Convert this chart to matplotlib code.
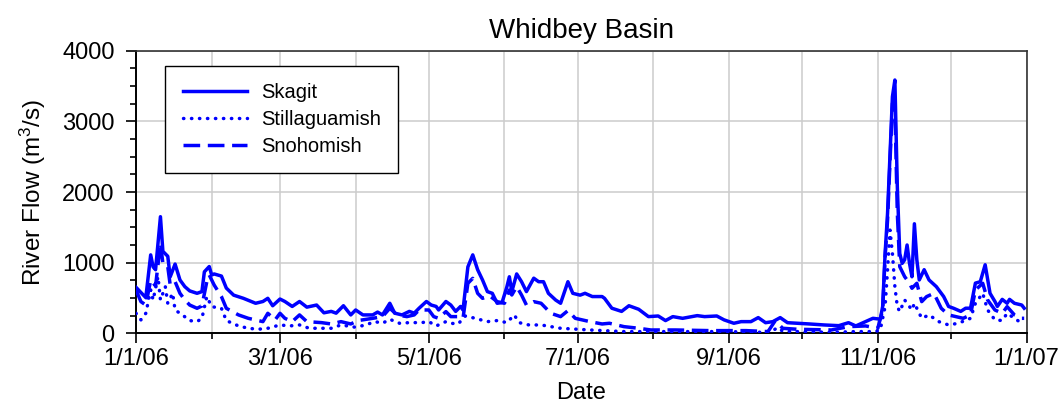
import numpy as np
import matplotlib
matplotlib.use("Agg")
import matplotlib.pyplot as plt
import matplotlib.dates as mdates
from matplotlib.ticker import MultipleLocator, FuncFormatter

plt.rcParams['font.family'] = ['Liberation Sans', 'DejaVu Sans']
plt.rcParams['mathtext.default'] = 'regular'

# ---- data (day offset from 1/1/06, flow m3/s) ----
skagit_day = [0, 3, 4, 6, 7, 8, 10, 11, 13, 14, 16, 18, 20, 22, 25, 27, 28, 30, 31, 32, 35, 37, 40, 44, 49, 52,
              54, 56, 59, 61, 64, 67, 70, 74, 77, 80, 82, 85, 88, 90, 93, 97, 99, 101, 104, 106, 109, 112, 114,
              116, 119, 121, 123, 124, 127, 129, 131, 133, 134, 136, 138, 140, 142, 144, 146, 148, 150, 152, 153,
              154, 156, 158, 160, 163, 165, 167, 169, 172, 174, 177, 179, 182, 184, 187, 191, 192, 195, 199, 202,
              206, 210, 214, 217, 220, 224, 230, 233, 238, 241, 245, 248, 252, 255, 258, 261, 264, 267, 271, 276,
              282, 288, 292, 295, 299, 302, 305, 306, 307, 308, 310, 311, 312, 313, 314, 315, 316, 317, 318, 319,
              320, 321, 323, 325, 328, 331, 333, 335, 338, 340, 342, 344, 346, 348, 350, 352, 353, 355, 357, 358,
              360, 363, 364]
skagit = [650, 540, 505, 1110, 940, 900, 1650, 1160, 1090, 800, 980, 755, 660, 600, 566, 590, 870, 945, 825, 840,
          810, 640, 540, 495, 425, 450, 495, 390, 485, 450, 380, 450, 370, 400, 290, 310, 285, 390, 260, 330, 260,
          260, 300, 260, 425, 285, 260, 310, 285, 355, 450, 400, 380, 330, 450, 400, 310, 380, 330, 940, 1110, 900,
          755, 590, 566, 425, 435, 660, 800, 590, 840, 730, 590, 780, 730, 730, 566, 470, 425, 730, 566, 540, 566,
          520, 520, 495, 355, 310, 390, 340, 236, 245, 180, 236, 212, 250, 236, 245, 190, 142, 165, 165, 222, 150,
          165, 222, 150, 142, 132, 118, 108, 150, 104, 165, 212, 200, 380, 1130, 1700, 3350, 3585, 2075, 1130, 990,
          1040, 1250, 990, 800, 1550, 1040, 755, 900, 755, 660, 520, 380, 355, 310, 355, 355, 710, 730, 970, 566,
          450, 380, 480, 425, 480, 425, 400, 355]

stilla_day = [0, 2, 4, 6, 7, 9, 10, 12, 13, 15, 16, 19, 22, 25, 27, 29, 31, 35, 37, 42, 46, 50, 54, 59, 63, 67,
              71, 76, 80, 84, 90, 94, 98, 101, 104, 108, 112, 117, 120, 123, 127, 129, 132, 135, 139, 144, 148,
              152, 155, 157, 161, 166, 174, 186, 200, 214, 228, 242, 257, 261, 263, 265, 271, 285, 295, 303, 305,
              307, 308, 309, 310, 311, 312, 313, 315, 318, 319, 322, 325, 329, 333, 337, 342, 344, 347, 349, 352,
              355, 357, 360, 363, 364]
stilla = [283, 190, 283, 613, 472, 800, 472, 660, 425, 566, 330, 260, 180, 165, 212, 520, 377, 354, 180, 104, 71,
          57, 71, 118, 104, 118, 71, 71, 71, 118, 85, 118, 165, 142, 198, 142, 151, 151, 165, 104, 165, 142, 132,
          245, 212, 165, 180, 151, 260, 151, 118, 118, 71, 47, 24, 24, 24, 24, 14, 40, 80, 30, 24, 14, 24, 24, 47,
          377, 900, 1460, 1130, 660, 377, 307, 472, 330, 425, 212, 260, 165, 118, 142, 212, 425, 566, 330, 190,
          180, 283, 212, 142, 165]

snoho_day = [0, 2, 4, 6, 8, 10, 11, 13, 14, 16, 18, 20, 22, 25, 27, 29, 30, 32, 35, 37, 42, 46, 52, 54, 57, 59,
             61, 64, 67, 70, 76, 80, 84, 88, 91, 97, 101, 104, 107, 111, 114, 116, 120, 122, 124, 127, 129, 132,
             134, 136, 138, 140, 142, 145, 148, 151, 153, 154, 156, 158, 160, 163, 166, 170, 174, 177, 180, 186,
             191, 194, 200, 206, 211, 221, 235, 250, 259, 262, 265, 271, 285, 292, 299, 304, 306, 307, 308, 310,
             311, 312, 313, 315, 317, 318, 320, 322, 324, 327, 330, 333, 336, 339, 342, 344, 347, 349, 352, 355,
             357, 360, 363, 364]
snoho = [613, 448, 400, 755, 670, 1275, 990, 943, 684, 731, 566, 472, 400, 354, 387, 731, 825, 684, 519, 354, 260,
         212, 165, 283, 190, 283, 212, 165, 260, 165, 151, 132, 165, 132, 180, 212, 236, 354, 260, 236, 260, 330,
         330, 236, 212, 307, 236, 236, 212, 708, 778, 566, 495, 528, 448, 425, 613, 542, 660, 542, 400, 448, 425,
         283, 236, 321, 212, 165, 132, 142, 94, 71, 47, 47, 38, 38, 24, 180, 71, 57, 47, 94, 104, 71, 330, 1085,
         1600, 3255, 3208, 1700, 943, 802, 708, 637, 708, 448, 519, 566, 354, 260, 236, 212, 260, 613, 708, 472,
         330, 283, 377, 260, 212, 212]

series_names = ["Skagit", "Stillaguamish", "Snohomish"]
title_text = "Whidbey Basin"

start = np.datetime64("2006-01-01")


def to_dates(days):
    return start + np.array(days, dtype="timedelta64[D]")


fig = plt.figure(figsize=(10.62, 4.13), dpi=100)
ax = fig.add_axes([0.1281, 0.193, 0.8386, 0.6842])

blue = "#0000FF"
lw = 2.5
ax.plot(to_dates(skagit_day), skagit, color=blue, lw=lw, solid_joinstyle="round",
        label=series_names[0], zorder=3)
ax.plot(to_dates(stilla_day), stilla, color=blue, lw=lw, linestyle=(0, (0.1, 2.2)),
        dash_capstyle="round", label=series_names[1], zorder=3)
ax.plot(to_dates(snoho_day), snoho, color=blue, lw=lw, linestyle=(0, (4.8, 2.2)),
        label=series_names[2], zorder=3)

ax.set_xlim(np.datetime64("2006-01-01"), np.datetime64("2007-01-01"))
ax.set_ylim(0, 4000)

ax.xaxis.set_major_locator(mdates.MonthLocator(bymonth=[1, 3, 5, 7, 9, 11]))
ax.xaxis.set_minor_locator(mdates.MonthLocator())


def fmt_date(x, pos=None):
    d = mdates.num2date(x)
    return f"{d.month}/{d.day}/{d.strftime('%y')}"


ax.xaxis.set_major_formatter(FuncFormatter(fmt_date))
ax.yaxis.set_major_locator(MultipleLocator(1000))
ax.yaxis.set_minor_locator(MultipleLocator(250))

ax.grid(True, which="major", axis="both", color="#cccccc", lw=1.1, zorder=0)
ax.grid(True, which="minor", axis="x", color="#cccccc", lw=1.1, zorder=0)
ax.set_axisbelow(True)

ax.tick_params(axis="both", which="major", direction="out", length=7.5, width=1.2,
               labelsize=17, pad=8, colors="black")
ax.tick_params(axis="x", which="major", pad=3)
ax.tick_params(axis="both", which="minor", direction="out", length=4.5, width=1.2)
ax.tick_params(top=False, right=False, which="both")

for s in ["left", "bottom"]:
    ax.spines[s].set_linewidth(1.4)
    ax.spines[s].set_color("black")
for s in ["top", "right"]:
    ax.spines[s].set_linewidth(1.2)
    ax.spines[s].set_color("#333333")

ax.set_xlabel("Date", fontsize=17, labelpad=9)
ax.set_ylabel("River Flow (m$^3$/s)", fontsize=17.5, labelpad=10)
ax.set_title(title_text, fontsize=20, pad=9)

leg = ax.legend(loc="upper left", bbox_to_anchor=(0.033, 0.945), fontsize=14.5,
                handlelength=3.2, handletextpad=0.7, borderpad=0.85, labelspacing=0.38,
                borderaxespad=0, fancybox=False, framealpha=1, edgecolor="black")
leg.get_frame().set_linewidth(1.0)

fig.savefig("out.png", dpi=100)
